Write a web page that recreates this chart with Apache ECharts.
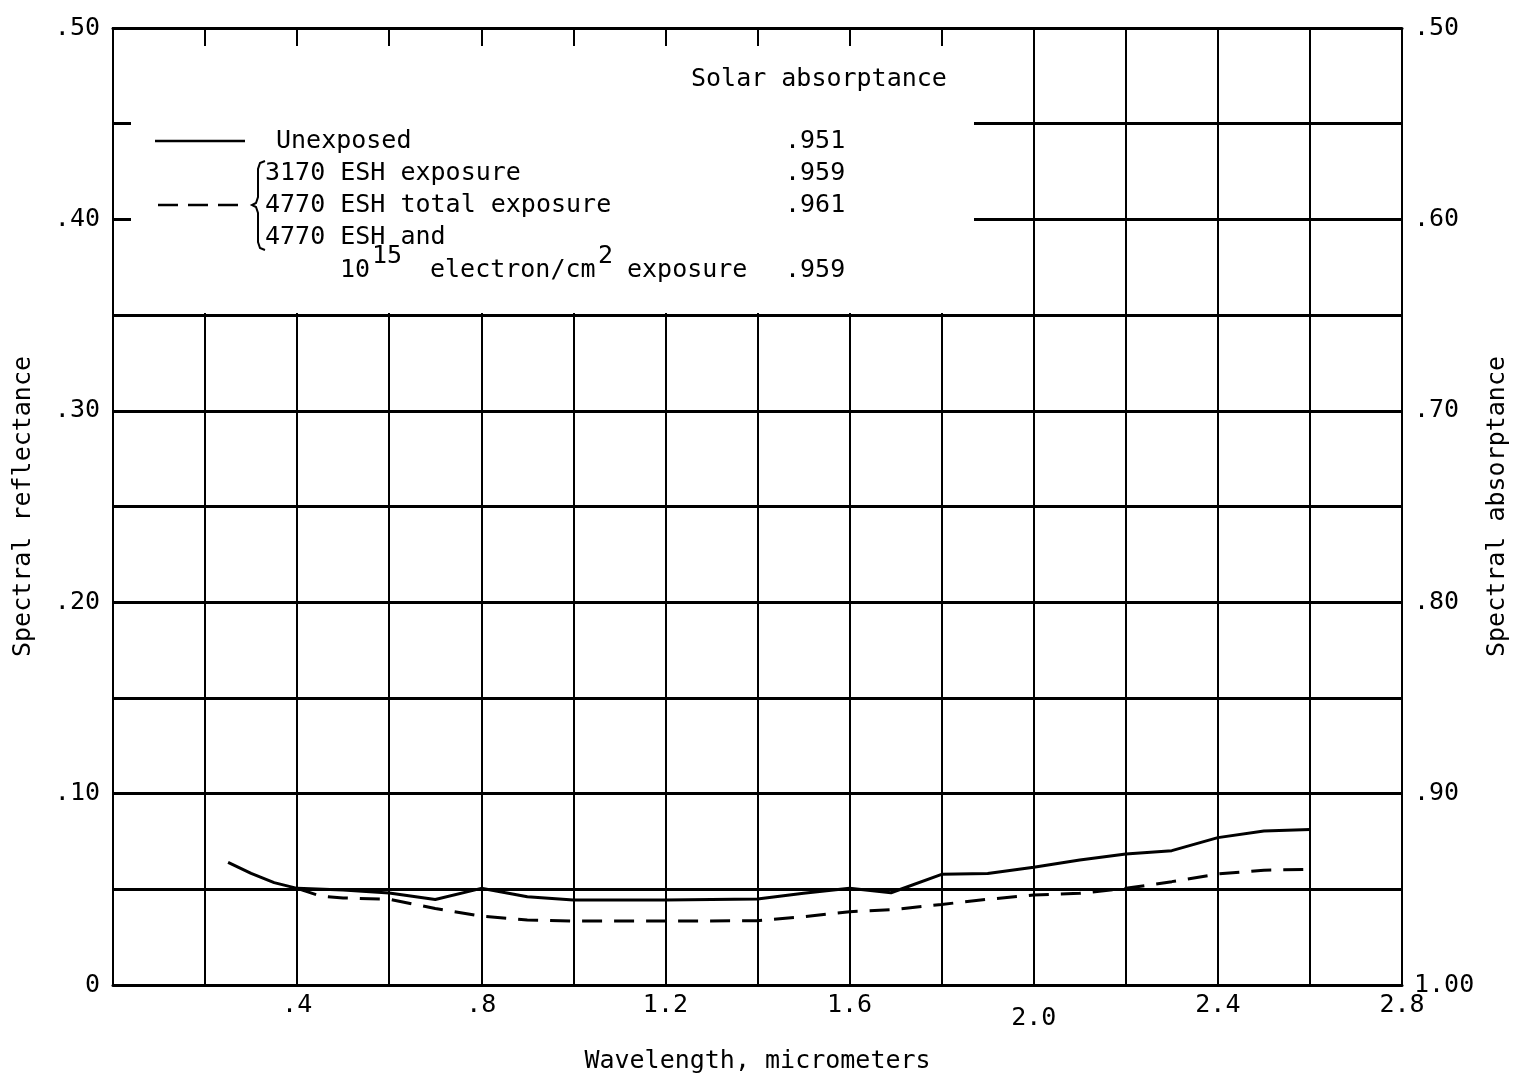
<!DOCTYPE html>
<html>
<head>
<meta charset="utf-8">
<script src="https://cdn.jsdelivr.net/npm/echarts@6/dist/echarts.min.js"></script>
<style>
 html, body { margin: 0; padding: 0; background: #fff; }
 #chart { width: 1513px; height: 1079px; }
</style>
</head>
<body>
<div id="chart"></div>
<script>
// wavelength (micrometers) and spectral reflectance
var unexposedX = [0.25, 0.3, 0.35, 0.4, 0.5, 0.6, 0.7, 0.8, 0.9, 1.0, 1.2, 1.4, 1.5, 1.6, 1.69, 1.8, 1.9, 2.0, 2.1, 2.2, 2.3, 2.4, 2.5, 2.6];
var unexposedY = [0.0641, 0.0583, 0.0535, 0.0505, 0.0496, 0.0481, 0.0447, 0.0505, 0.0461, 0.0444, 0.0444, 0.0449, 0.0479, 0.0505, 0.0482, 0.0578, 0.0582, 0.0615, 0.0653, 0.0684, 0.0702, 0.0770, 0.0805, 0.0813];
var exposedX = [0.4, 0.45, 0.5, 0.6, 0.7, 0.8, 0.9, 1.0, 1.2, 1.4, 1.5, 1.6, 1.7, 1.8, 1.9, 2.0, 2.1, 2.2, 2.3, 2.4, 2.5, 2.6];
var exposedY = [0.0505, 0.0465, 0.0455, 0.0448, 0.0400, 0.0360, 0.0340, 0.0334, 0.0334, 0.0336, 0.0357, 0.0383, 0.0395, 0.0421, 0.0448, 0.0470, 0.0479, 0.0505, 0.0540, 0.0580, 0.0600, 0.0604];

var legendNames = ['Unexposed', '3170 ESH exposure', '4770 ESH total exposure', '4770 ESH and'];
var legendValues = ['.951', '.959', '.961', '.959'];

var FONT = '"DejaVu Sans Mono", monospace';
var INK = '#000';

function pairs(xs, ys) {
 return xs.map(function (x, i) { return [x, ys[i]]; });
}
function decimalLabel(v, digits) {
 var s = v.toFixed(digits);
 return s.charAt(0) === '0' ? s.substring(1) : s;
}

var chart = echarts.init(document.getElementById('chart'));

function txt(text, x, y, size, extra) {
 var st = { text: text, x: x, y: y, font: (size || 25) + 'px ' + FONT, fill: INK, verticalAlign: 'middle' };
 for (var k in extra) st[k] = extra[k];
 return { type: 'text', z: 20, style: st };
}

// curly brace beside the exposed entries
var bracePts = [[265, 161], [260, 163], [258, 169], [258, 197], [256, 203], [252, 205], [256, 207], [258, 213], [258, 242], [260, 248], [265, 250]];

var graphics = [
 // blank area behind the key
 { type: 'rect', z: 10, shape: { x: 131, y: 46, width: 843, height: 267 }, style: { fill: '#fff' } },
 txt('Solar absorptance', 691, 79),
 { type: 'line', z: 20, shape: { x1: 155, y1: 141, x2: 245, y2: 141 }, style: { stroke: INK, lineWidth: 2.5 } },
 { type: 'line', z: 20, shape: { x1: 158, y1: 205, x2: 244, y2: 205 }, style: { stroke: INK, lineWidth: 2.5, lineDash: [20, 10] } },
 { type: 'polyline', z: 20, shape: { points: bracePts }, style: { stroke: INK, lineWidth: 2, fill: null } },
 txt(legendNames[0], 276, 141),
 txt(legendNames[1], 265, 173),
 txt(legendNames[2], 265, 205),
 txt(legendNames[3], 265, 237),
 txt('10', 340, 270),
 txt('15', 372, 256),
 txt('electron/cm', 430, 270),
 txt('2', 598, 256),
 txt('exposure', 627, 270),
 txt(legendValues[0], 785, 141),
 txt(legendValues[1], 785, 173),
 txt(legendValues[2], 785, 205),
 txt(legendValues[3], 785, 270)
];

var option = {
 backgroundColor: '#fff',
 animation: false,
 grid: { left: 113, top: 28, width: 1289, height: 957, containLabel: false, outerBoundsMode: 'none' },
 xAxis: [{
  type: 'value', min: 0, max: 2.8, interval: 0.2, position: 'bottom',
  name: 'Wavelength, micrometers', nameLocation: 'middle', nameGap: 64,
  nameTextStyle: { fontFamily: FONT, fontSize: 25, color: INK },
  axisLine: { show: true, lineStyle: { color: INK, width: 3 } },
  axisTick: { show: false },
  splitLine: { show: true, lineStyle: { color: INK, width: 2 } },
  axisLabel: {
   margin: 8, fontFamily: FONT, fontSize: 25, color: INK, showMaxLabel: true,
   formatter: function (v) {
    var k = Math.round(v * 10);
    if (k === 0 || k % 4 !== 0) return '';
    var s = decimalLabel(v, 1);
    return k === 20 ? '{low|' + s + '}' : s;
   },
   rich: { low: { fontFamily: FONT, fontSize: 25, color: INK, padding: [13, 0, 0, 0] } }
  }
 }, {
  type: 'value', min: 0, max: 2.8, interval: 0.2, position: 'top',
  axisLine: { show: true, lineStyle: { color: INK, width: 3 } },
  axisTick: { show: true, inside: true, length: 17, lineStyle: { color: INK, width: 2 } },
  axisLabel: { show: false },
  splitLine: { show: false }
 }],
 yAxis: [{
  type: 'value', min: 0, max: 0.5, interval: 0.05, position: 'left',
  name: 'Spectral reflectance', nameLocation: 'middle', nameGap: 77, nameRotate: 90,
  nameTextStyle: { fontFamily: FONT, fontSize: 25, color: INK },
  axisLine: { show: true, lineStyle: { color: INK, width: 2 } },
  axisTick: { show: false },
  splitLine: { show: true, lineStyle: { color: INK, width: 3 } },
  axisLabel: {
   margin: 13, fontFamily: FONT, fontSize: 25, color: INK,
   formatter: function (v) {
    var k = Math.round(v * 100);
    if (k % 10 !== 0) return '';
    return k === 0 ? '0' : decimalLabel(v, 2);
   }
  }
 }, {
  type: 'value', min: 0.5, max: 1.0, interval: 0.05, position: 'right', inverse: true,
  name: 'Spectral absorptance', nameLocation: 'middle', nameGap: 81, nameRotate: 90,
  nameTextStyle: { fontFamily: FONT, fontSize: 25, color: INK },
  axisLine: { show: true, lineStyle: { color: INK, width: 2 } },
  axisTick: { show: false },
  splitLine: { show: false },
  axisLabel: {
   margin: 12, fontFamily: FONT, fontSize: 25, color: INK,
   formatter: function (v) {
    var k = Math.round(v * 100);
    if (k % 10 !== 0) return '';
    return decimalLabel(v, 2);
   }
  }
 }],
 series: [{
  name: 'Unexposed', type: 'line', xAxisIndex: 0, yAxisIndex: 0,
  data: pairs(unexposedX, unexposedY), showSymbol: false, z: 5,
  lineStyle: { color: INK, width: 3 }
 }, {
  name: 'Exposed', type: 'line', xAxisIndex: 0, yAxisIndex: 0,
  data: pairs(exposedX, exposedY), showSymbol: false, z: 5,
  lineStyle: { color: INK, width: 3, type: [20, 12] }
 }],
 graphic: graphics
};

chart.setOption(option);
</script>
</body>
</html>
